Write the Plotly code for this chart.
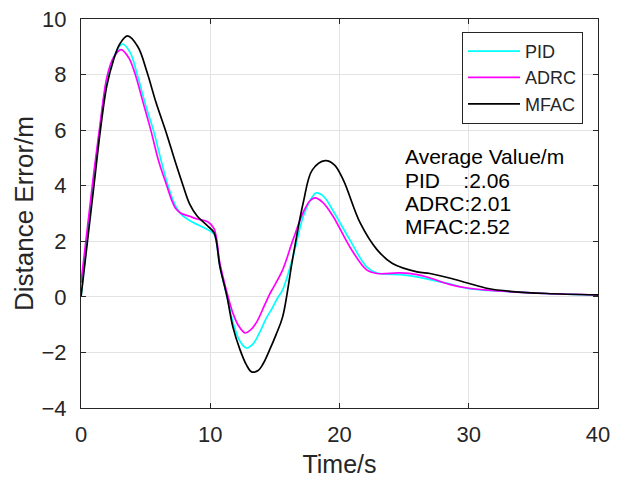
import plotly.graph_objects as go

# ---- data ----
t_pid = [0, 0.5, 1, 1.5, 2, 2.5, 3.2, 3.8, 4.35, 5, 5.6, 6.2, 6.7, 7.1, 7.4, 7.8, 8.4, 9, 9.8, 10.3,
         10.75, 11.3, 11.75, 12.3, 12.8, 13.3, 13.8, 14.3, 14.8, 15.2, 15.6, 16.4, 17.2, 17.9, 18.2,
         18.8, 19.5, 20.8, 22.1, 22.9, 24.7, 26, 27, 28.5, 29.9, 31.5, 33.4, 36, 40]
pid = [0, 2.2, 4.3, 6.2, 7.8, 8.6, 9.1, 8.8, 8.0, 6.9, 6.0, 4.9, 4.05, 3.5, 3.2, 2.95, 2.75, 2.6, 2.42, 2.25,
       1.1, 0.0, -0.9, -1.6, -1.84, -1.7, -1.3, -0.8, -0.4, -0.05, 0.25, 1.44, 2.9, 3.6, 3.74,
       3.6, 3.1, 2.05, 1.08, 0.86, 0.8, 0.72, 0.62, 0.47, 0.3, 0.23, 0.18, 0.12, 0.06]

t_adrc = [0, 0.5, 1, 1.5, 2, 2.5, 3.1, 3.7, 4.2, 4.8, 5.4, 6.0, 6.6, 7.0, 7.3, 7.7, 8.4, 9, 9.8, 10.3,
          10.75, 11.3, 11.75, 12.2, 12.7, 13.1, 13.6, 14.2, 14.6, 14.9, 15.6, 16.4, 17.2, 17.7, 18.1,
          18.7, 19.5, 20.8, 22.1, 22.9, 24.7, 26, 27, 28.5, 29.9, 31.5, 33.4, 36, 40]
adrc = [0.5, 2.5, 4.5, 6.3, 7.9, 8.6, 8.9, 8.6, 8.0, 7.0, 6.0, 4.9, 4.05, 3.5, 3.2, 3.02, 2.9, 2.8, 2.7, 2.45,
        1.2, 0.14, -0.58, -1.05, -1.3, -1.2, -0.9, -0.3, 0.1, 0.35, 0.97, 2.05, 3.05, 3.45, 3.56,
        3.4, 2.9, 1.8, 0.97, 0.84, 0.86, 0.8, 0.68, 0.45, 0.32, 0.24, 0.18, 0.12, 0.07]

t_mfac = [0, 0.5, 1, 1.5, 2, 2.5, 3.0, 3.6, 4.4, 5.1, 5.8, 6.6, 7.3, 7.9, 8.4, 9.0, 9.8, 10.3,
          10.75, 11.3, 11.75, 12.3, 12.8, 13.2, 13.7, 14.1, 14.6, 15.1, 15.6, 16.4, 17.2, 17.9, 18.9,
          19.6, 20.3, 21.6, 22.9, 24.1, 26, 27, 28.5, 29.9, 31.5, 33.4, 36, 40]
mfac = [0, 2.0, 4.0, 6.0, 7.6, 8.5, 9.1, 9.39, 9.0, 8.1, 7.0, 5.9, 4.85, 4.0, 3.35, 2.9, 2.55, 2.3,
        1.08, 0.0, -1.08, -1.9, -2.45, -2.7, -2.65, -2.4, -1.9, -1.35, -0.72, 1.44, 3.4, 4.57, 4.9,
        4.75, 4.2, 2.66, 1.7, 1.2, 0.9, 0.84, 0.68, 0.5, 0.3, 0.19, 0.12, 0.07]

series = [("PID", t_pid, pid, "#00FFFF"),
          ("ADRC", t_adrc, adrc, "#FF00FF"),
          ("MFAC", t_mfac, mfac, "#000000")]

x_ticks = [0, 10, 20, 30, 40]
y_ticks = [-4, -2, 0, 2, 4, 6, 8, 10]

avg_lines = ["Average Value/m",
             "PID\u00a0\u00a0\u00a0\u00a0:2.06",
             "ADRC:2.01",
             "MFAC:2.52"]

FONT = "Arial, Liberation Sans, Helvetica, sans-serif"
AX = "#262626"

fig = go.Figure()
for name, t, v, c in series:
    fig.add_trace(go.Scatter(x=t, y=v, mode="lines", name=name,
                             line=dict(color=c, width=1.7, shape="spline", smoothing=1.0)))

axis_common = dict(showline=True, linecolor=AX, linewidth=1, mirror="ticks",
                   ticks="inside", ticklen=5, tickcolor=AX, showgrid=True,
                   gridcolor="#e3e3e3", gridwidth=1, zeroline=False, automargin=False,
                   tickfont=dict(family=FONT, size=22, color=AX))

fig.update_layout(
    width=624, height=478,
    margin=dict(l=81, r=26, t=19, b=70),
    paper_bgcolor="white", plot_bgcolor="white",
    font=dict(family=FONT, color=AX),
    xaxis=dict(range=[0, 40], tickvals=x_ticks, ticklabelstandoff=7,
               title=dict(text="Time/s", font=dict(family=FONT, size=25, color=AX), standoff=10),
               **axis_common),
    yaxis=dict(range=[-4, 10], tickvals=y_ticks, ticklabelstandoff=9,
               title=dict(text="Distance Error/m", font=dict(family=FONT, size=26, color=AX), standoff=0),
               **axis_common),
    legend=dict(x=0.971, xanchor="right", y=0.967, yanchor="top",
                bordercolor="#262626", borderwidth=1, bgcolor="white",
                itemwidth=52,
                font=dict(family=FONT, size=18, color=AX), tracegroupgap=0),
)

ys = [157, 180, 203, 226]
for txt, yc in zip(avg_lines, ys):
    fig.add_annotation(xref="paper", yref="paper", x=(403 - 81) / 517, y=(408 - yc) / 389,
                       xanchor="left", yanchor="middle", text=txt, showarrow=False,
                       font=dict(family=FONT, size=21, color="black"))

fig.write_html("out.html")
